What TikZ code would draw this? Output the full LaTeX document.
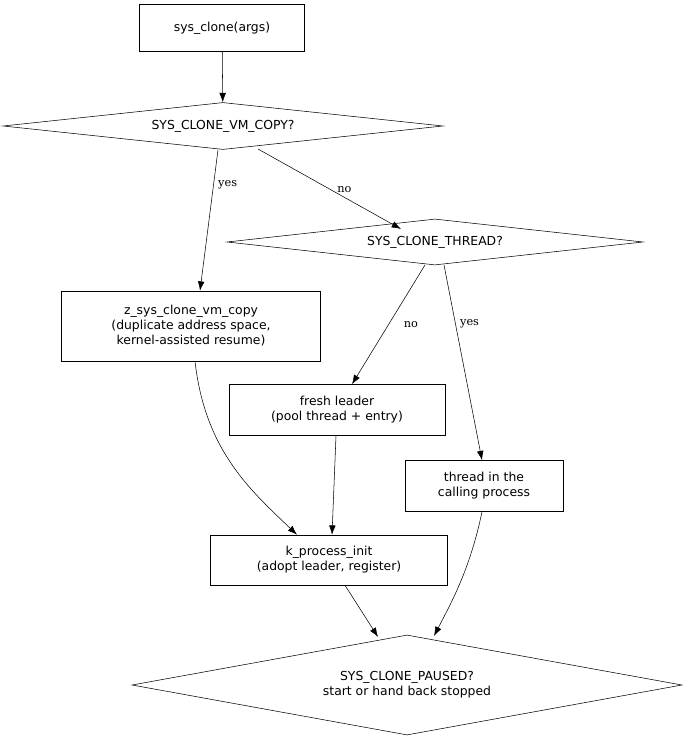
\documentclass[tikz,border=0pt]{standalone}
\usepackage{fontspec}
\setmainfont{DejaVu Sans}
\newfontfamily\lblfont{DejaVu Serif}
\usetikzlibrary{shapes.geometric,arrows.meta}
\begin{document}
\begin{tikzpicture}[x=0.75pt,y=-0.75pt,
  box/.style={draw,rectangle,align=center,inner sep=0pt,font=\fontsize{9.3}{11.2}\selectfont},
  dia/.style={draw,diamond,align=center,inner sep=0pt,font=\fontsize{9.3}{11.2}\selectfont},
  arr/.style={-{Latex[length=7pt,width=5pt]}},
  lbl/.style={font=\lblfont\fontsize{8.5}{10}\selectfont}]
\path[use as bounding box] (0,0) rectangle (687,741);
\node[box,minimum width=123.75pt,minimum height=35.25pt] (a) at (222,28) {sys\_clone(args)};
\node[dia,aspect=9.36,minimum width=330pt,minimum height=35.25pt] (vm) at (223,126) {SYS\_CLONE\_VM\_COPY?};
\node[dia,aspect=9.04,minimum width=312pt,minimum height=34.5pt] (th) at (435,242) {SYS\_CLONE\_THREAD?};
\node[box,minimum width=194.25pt,minimum height=52.5pt] (z) at (191,326) {z\_sys\_clone\_vm\_copy\\(duplicate address space,\\kernel-assisted resume)};
\node[box,minimum width=162pt,minimum height=38.25pt] (f) at (337,410) {fresh leader\\(pool thread + entry)};
\node[box,minimum width=118.5pt,minimum height=38.25pt] (t) at (484,486) {thread in the\\calling process};
\node[box,minimum width=177.75pt,minimum height=37.5pt] (k) at (329,560) {k\_process\_init\\(adopt leader, register)};
\node[dia,aspect=5.5,minimum width=412.5pt,minimum height=75pt] (p) at (407,685) {SYS\_CLONE\_PAUSED?\\start or hand back stopped};
\coordinate (vmr) at (258,149);
\coordinate (thl) at (401,229);
\coordinate (thno) at (425,265);
\coordinate (thyes) at (444,265);
\coordinate (pl) at (378,637);
\coordinate (pr) at (434,636);
\draw[arr] (a) -- (vm);
\draw[arr] ([xshift=-3.75pt]vm.south) -- node[lbl,right,pos=0.25]{yes} ([xshift=6.75pt]z.north);
\draw[arr] (vmr) -- node[lbl,pos=0.55,above right=-3pt]{no} (thl);
\draw[arr] (thno) -- node[lbl,pos=0.5,right=8pt]{no} ([xshift=11.25pt]f.north);
\draw[arr] (thyes) -- node[lbl,pos=0.3,right]{yes} ([xshift=-1.5pt]t.north);
\draw[arr] ([xshift=3pt]z.south) .. controls (205,450) and (250,490) .. ([xshift=-24pt]k.north);
\draw[arr] ([xshift=-0.75pt]f.south) -- ([xshift=2.25pt]k.north);
\draw[arr] ([xshift=12pt]k.south) -- (pl);
\draw[arr] ([xshift=-1.5pt]t.south) .. controls (470,570) and (450,605) .. (pr);
\end{tikzpicture}
\end{document}
